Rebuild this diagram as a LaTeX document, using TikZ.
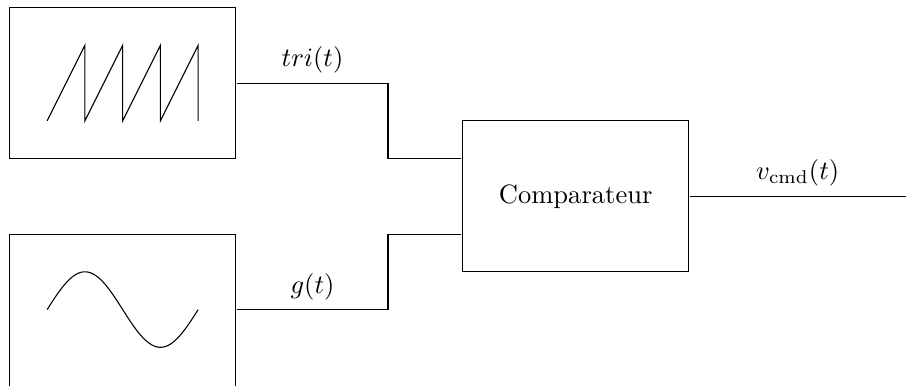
\documentclass[tikz,border=0pt]{standalone}
\usetikzlibrary{calc}
\begin{document}
\begin{tikzpicture}[scale=2,
  every node/.style={transform shape},
  every path/.style={line width=0.8pt},
  block/.style={draw, rectangle, minimum width=3cm, minimum height=2cm, inner sep=0pt}]
\useasboundingbox (0,0) rectangle (12,-5.1);
\node[block] (gen1) at (1.625,-1.1) {};
\node[block, minimum height=2.06cm] (gen2) at (1.625,-4.13) {};
\node[block] (comp) at (7.625,-2.6) {Comparateur};
\coordinate (out) at (12.05,-2.6);
% sawtooth
\draw (0.625,-1.6) -- (1.125,-0.6) -- (1.125,-1.6) -- (1.625,-0.6) -- (1.625,-1.6)
  -- (2.125,-0.6) -- (2.125,-1.6) -- (2.625,-0.6) -- (2.625,-1.6);
% sine
\draw plot[domain=0:2, samples=120, smooth] ({0.625+\x},{-4.1+0.5*sin(180*\x)});
% connectors
\draw (gen1.east) -- node[above]{$tri(t)$} ++(2,0) |- ($(comp.west)+(0,0.5)$);
\draw ($(gen2.east)+(0,0.03)$) -- node[above]{$g(t)$} ++(2,0) |- ($(comp.west)+(0,-0.5)$);
\draw (comp.east) -- node[above, pos=0.49]{$v_{\mathrm{cmd}}(t)$} (out);
\end{tikzpicture}
\end{document}
